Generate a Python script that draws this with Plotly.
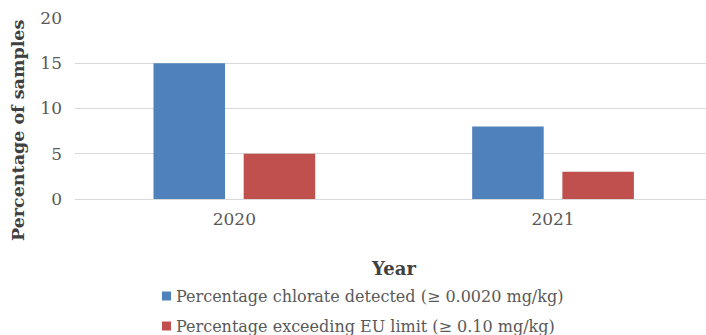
import plotly.graph_objects as go

years = ["2020", "2021"]
detected = [15, 8]
exceeding = [5, 3]
series_names = [
    "Percentage chlorate detected (≥ 0.0020 mg/kg)",
    "Percentage exceeding EU limit (≥ 0.10 mg/kg)",
]
series_colors = ["#4F81BD", "#C0504D"]
y_ticks = [0, 5, 10, 15, 20]

FONT = "DejaVu Serif"
GREY = "#595959"
DARK = "#404040"

# plot area in pixels: x 75..706, y 18..199
L, R, T, B = 75, 706, 18, 199
W, H = R - L, B - T


def px(xp):
    return (xp - L) / W


def py(yp):
    return (B - yp) / H


fig = go.Figure()
for vals, name, color in zip([detected, exceeding], series_names, series_colors):
    fig.add_trace(go.Bar(x=years, y=vals, name=name,
                         marker=dict(color=color, line=dict(width=0)),
                         showlegend=False))

fig.update_layout(
    width=706, height=335,
    margin=dict(l=L, r=706 - R, t=T, b=335 - B, autoexpand=False),
    paper_bgcolor="white", plot_bgcolor="white",
    barmode="group", bargap=0.434, bargroupgap=0.207,
    font=dict(family=FONT, size=16, color=GREY),
    xaxis=dict(type="category", range=[-0.5, 1.48], showgrid=False,
               ticks="", showline=False, tickfont=dict(size=17, color=GREY),
               ticklabelstandoff=8),
    yaxis=dict(range=[0, 20], tickvals=y_ticks, showgrid=True,
               gridcolor="#D9D9D9", gridwidth=1, zeroline=True,
               zerolinecolor="#D9D9D9", zerolinewidth=1, ticks="",
               showline=False, tickfont=dict(size=17, color=GREY),
               ticklabelstandoff=12),
    showlegend=False,
)

# axis titles
fig.add_annotation(text="<b>Percentage of samples</b>", xref="paper", yref="paper",
                   x=px(18), y=py(131), xanchor="center", yanchor="middle",
                   textangle=-90, showarrow=False,
                   font=dict(family=FONT, size=17.5, color=DARK))
fig.add_annotation(text="<b>Year</b>", xref="paper", yref="paper",
                   x=px(394), y=py(268), xanchor="center", yanchor="middle",
                   showarrow=False, font=dict(family=FONT, size=18, color=DARK))

# legend: colour swatch followed by series name
for i, (name, color) in enumerate(zip(series_names, series_colors)):
    cy = 296 + 30 * i
    fig.add_shape(type="rect", xref="paper", yref="paper",
                  x0=px(162), x1=px(171), y0=py(cy - 4.5), y1=py(cy + 4.5),
                  fillcolor=color, line=dict(width=0))
    fig.add_annotation(text=name, xref="paper", yref="paper",
                       x=px(174), y=py(cy), xanchor="left", yanchor="middle",
                       showarrow=False, font=dict(family=FONT, size=16, color=GREY))

fig.write_html("out.html")
